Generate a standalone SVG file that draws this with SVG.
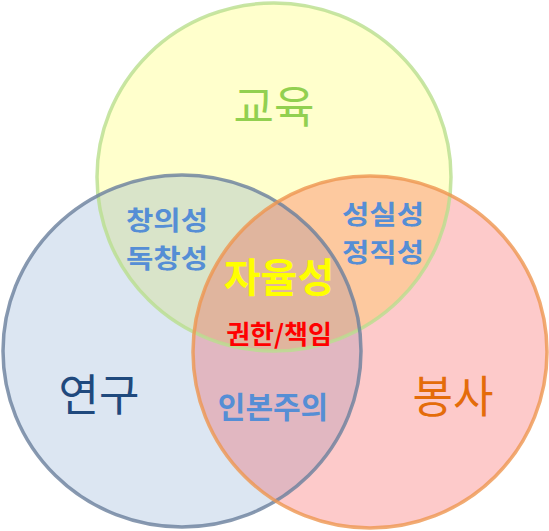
<svg xmlns="http://www.w3.org/2000/svg" width="549" height="531" viewBox="0 0 549 531">
<style>
text{font-family:"Noto Sans CJK KR","Noto Sans",sans-serif;text-anchor:middle}
.big{font-size:44px;font-weight:400}
.mid{font-size:30px;font-weight:700;fill:#558ED5}
.pair{font-size:26px;font-weight:700;fill:#558ED5}
.ring{fill:none;stroke-width:3.5;stroke-opacity:0.8}
</style>
<defs>
<ellipse id="T" cx="274" cy="177" rx="177" ry="174"/>
<ellipse id="L" cx="182" cy="351" rx="179" ry="176"/>
<ellipse id="R" cx="370" cy="352" rx="177" ry="176"/>
<clipPath id="cT"><use href="#T"/></clipPath>
<clipPath id="cL"><use href="#L"/></clipPath>
<clipPath id="cR"><use href="#R"/></clipPath>
</defs>
<rect width="549" height="531" fill="#FFFFFF"/>
<g id="fills">
<use href="#T" fill="#FFFFCC"/>
<use href="#L" fill="#DCE6F2"/>
<use href="#R" fill="#FDCACA"/>
<use href="#T" fill="#D9E4C9" clip-path="url(#cL)"/>
<use href="#T" fill="#FDC99F" clip-path="url(#cR)"/>
<use href="#L" fill="#E1B7C1" clip-path="url(#cR)"/>
<g clip-path="url(#cR)"><use href="#T" fill="#E0B59E" clip-path="url(#cL)"/></g>
</g>
<g id="education">
<use href="#T" class="ring" stroke="#B9DE8E"/>
<text class="big" x="274" y="123" fill="#92D050">교육</text>
</g>
<g id="research">
<use href="#L" class="ring" stroke="#6A7F9C"/>
<text class="big" x="99" y="411" fill="#1F497D">연구</text>
</g>
<g id="service">
<use href="#R" class="ring" stroke="#EE9650"/>
<text class="big" x="453" y="413" fill="#E46C0A">봉사</text>
</g>
<g id="edu-research">
<text class="pair" x="167" y="230" textLength="82" lengthAdjust="spacingAndGlyphs">창의성</text>
<text class="pair" x="167" y="268" textLength="82" lengthAdjust="spacingAndGlyphs">독창성</text>
</g>
<g id="edu-service">
<text class="pair" x="383" y="224" textLength="82" lengthAdjust="spacingAndGlyphs">성실성</text>
<text class="pair" x="383" y="262" textLength="82" lengthAdjust="spacingAndGlyphs">정직성</text>
</g>
<g id="research-service">
<text class="mid" x="273" y="418">인본주의</text>
</g>
<g id="center">
<text x="279" y="292" font-size="40" font-weight="700" fill="#FFFF00">자율성</text>
<text x="279" y="344" font-size="26" font-weight="700" fill="#FF0000">권한/책임</text>
</g>
</svg>
